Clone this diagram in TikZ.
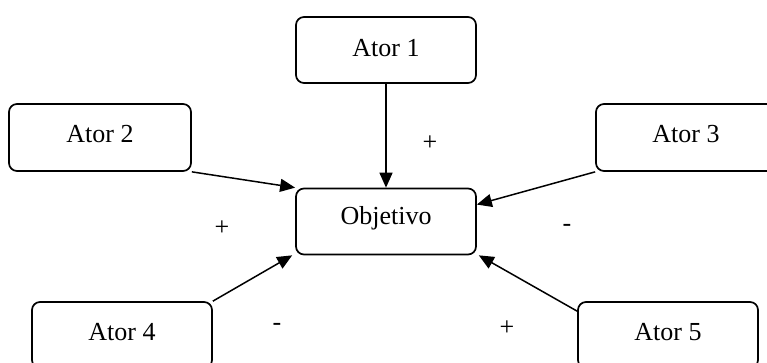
\documentclass[tikz,border=0pt]{standalone}
\usepackage{fontspec}
\setmainfont{Liberation Serif}
\usetikzlibrary{arrows.meta,calc}
\begin{document}
\begin{tikzpicture}[x=1pt,y=-1pt,
  actorbox/.style={draw,line width=1.7pt,rounded corners=8pt,
    minimum width=180pt,minimum height=66pt,inner sep=0pt,
    font=\fontsize{26}{30}\selectfont,text height=14pt,text depth=3pt},
  link/.style={line width=1.5pt,-{Triangle[length=15pt,width=13pt]}},
  sign/.style={inner sep=0pt,font=\fontsize{26}{30}\selectfont}]
  \useasboundingbox (0,0) rectangle (767,363);
  \clip (0,0) rectangle (767,363);
  % actors around the goal
  \node[actorbox,text height=17pt] (a1) at (386,50) {Ator 1};
  \node[actorbox,minimum width=182pt,minimum height=67pt] (a2) at (100,137.5) {Ator 2};
  \node[actorbox,minimum height=67pt] (a3) at (686,137.5) {Ator 3};
  \node[actorbox,text height=10pt] (obj) at (386,221.5) {Objetivo};
  \node[actorbox] (a4) at (122,335) {Ator 4};
  \node[actorbox] (a5) at (668,335) {Ator 5};
  % influences
  \draw[link] (a1.south) -- (obj.north);
  \draw[link] (a2.south east) -- (obj.north west);
  \draw[link] (a3.south west) -- ($(obj.north east)!0.25!(obj.south east)$);
  \draw[link] (a4.north east) -- ($(obj.south west)+(-3,0)$);
  \draw[link] ($(a5.north west)+(0,10)$) -- ($(obj.south east)+(2,0)$);
  % signs
  \node[sign] (s1) at (430,143) {+};
  \node[sign] (s3) at (567,228) {-};
  \node[sign] (s2) at (222,228) {+};
  \node[sign] (s4) at (277,327) {-};
  \node[sign] (s5) at (507,328) {+};
\end{tikzpicture}
\end{document}
